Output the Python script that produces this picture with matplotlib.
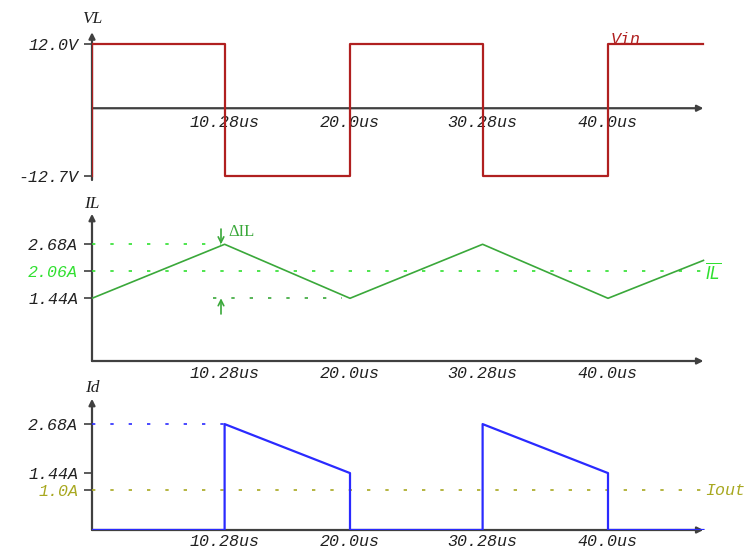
import numpy as np
import matplotlib
matplotlib.use("Agg")
import matplotlib.pyplot as plt

# data
t_ticks = [10.28, 20.0, 30.28, 40.0]
t_labels = ["10.28us", "20.0us", "30.28us", "40.0us"]
t_end = 47.4

vl_t = [0, 0, 10.28, 10.28, 20.0, 20.0, 30.28, 30.28, 40.0, 40.0, t_end]
vl_v = [-12.7, 12.0, 12.0, -12.7, -12.7, 12.0, 12.0, -12.7, -12.7, 12.0, 12.0]

il_t = [0, 10.28, 20.0, 30.28, 40.0, t_end]
il_v = [1.44, 2.68, 1.44, 2.68, 1.44, 2.31]
il_avg = 2.06

id_t = [0, 10.28, 10.28, 20.0, 20.0, 30.28, 30.28, 40.0, 40.0, t_end]
id_v = [0, 0, 2.68, 1.44, 0, 0, 2.68, 1.44, 0, 0]
i_out = 1.0

W, H = 744, 550
fig = plt.figure(figsize=(W / 100, H / 100), dpi=100)

tickfont = dict(family="Liberation Mono", style="italic", size=12)
labfont = dict(family="Liberation Serif", style="italic", size=12.5)
axcol = "#404040"
red = "#b02020"
green = "#3aa83a"
lgreen = "#30e030"
blue = "#2a2aff"
olive = "#a8a820"
dots = (0, (2, 9))

X0 = 92.0        # pixel of t=0
XS = 12.9        # px per us


def px_axes(y_top, y_bot):
    x1 = X0 + t_end * XS + 4
    return fig.add_axes([X0 / W, 1 - y_bot / H, (x1 - X0) / W, (y_bot - y_top) / H])


def setup(ax, ylo, yhi, ytop, yticks, ylabels, ycolors, xaxis_y, name, name_y, lab_off):
    ax.set_xlim(0, t_end + 4 / XS)
    ax.set_ylim(ylo, yhi)
    for s in ax.spines.values():
        s.set_visible(False)
    ax.set_yticks(yticks)
    ax.set_yticklabels(ylabels, fontdict=tickfont)
    for lab, c in zip(ax.get_yticklabels(), ycolors):
        lab.set_color(c)
    ax.tick_params(axis="y", length=6, width=1.2, color=axcol, pad=4)
    ax.set_xticks([])
    # axes lines with arrows
    ax.annotate("", xy=(t_end, xaxis_y), xytext=(0, xaxis_y),
                arrowprops=dict(arrowstyle="-|>", color=axcol, lw=1.6,
                                mutation_scale=9, shrinkA=0, shrinkB=0), zorder=1)
    ax.annotate("", xy=(0, ytop), xytext=(0, ylo),
                arrowprops=dict(arrowstyle="-|>", color=axcol, lw=1.6,
                                mutation_scale=9, shrinkA=0, shrinkB=0), zorder=1)
    for t, l in zip(t_ticks, t_labels):
        ax.annotate(l, xy=(t, xaxis_y), xytext=(0, lab_off), textcoords="offset points",
                    ha="center", va="center", color="#202020", **tickfont)
    ax.text(0, name_y, name, ha="center", va="center", color="#202020", **labfont)


# panel 1 : VL
ax1 = px_axes(28.5, 180.0)
setup(ax1, -13.5, 15.0, 14.3, [12.0, -12.7], ["12.0V", "-12.7V"],
      ["#202020", "#202020"], 0, "VL", 16.8, -10)
ax1.plot(vl_t, vl_v, color=red, lw=1.6, zorder=3)
ax1.text(40.2, 13.0, "Vin", color=red, ha="left", va="center", **tickfont)

# panel 2 : IL
ax2 = px_axes(199.0, 361.0)
setup(ax2, 0, 3.72, 3.38, [2.68, 2.06, 1.44], ["2.68A", "2.06A", "1.44A"],
      ["#202020", lgreen, "#202020"], 0, "IL", 3.61, -9)
ax2.plot([0, 10.0], [2.68, 2.68], color=lgreen, lw=1.2, ls=dots)
ax2.plot([0, t_end], [il_avg, il_avg], color=lgreen, lw=1.2, ls=dots)
ax2.plot([9.4, 19.4], [1.44, 1.44], color=green, lw=1.2, ls=dots)
ax2.plot(il_t, il_v, color=green, lw=1.2, zorder=3)
ax2.annotate("", xy=(10.0, 2.68), xytext=(10.0, 3.03),
             arrowprops=dict(arrowstyle="->", color=green, lw=1.2, shrinkA=0, shrinkB=0))
ax2.annotate("", xy=(10.0, 1.44), xytext=(10.0, 1.08),
             arrowprops=dict(arrowstyle="->", color=green, lw=1.2, shrinkA=0, shrinkB=0))
ax2.text(10.6, 2.97, "ΔIL", color=green, ha="left", va="center",
         family="Liberation Serif", size=12)
ax2.text(47.5, 2.03, r"$\overline{IL}$", color=lgreen, ha="left", va="center", size=12)

# panel 3 : Id
ax3 = px_axes(390.5, 530.0)
setup(ax3, 0, 3.53, 3.32, [2.68, 1.44, 1.0], ["2.68A", "1.44A", "1.0A"],
      ["#202020", "#202020", olive], 0, "Id", 3.6, -8)
ax3.plot([0, 10.28], [2.68, 2.68], color=blue, lw=1.2, ls=dots)
ax3.plot([0, t_end], [i_out, i_out], color=olive, lw=1.2, ls=dots)
ax3.plot(id_t, id_v, color=blue, lw=1.6, zorder=3)
ax3.text(47.5, 1.0, "Iout", color=olive, ha="left", va="center", **tickfont)

for a in (ax1, ax2, ax3):
    for tx in a.texts:
        tx.set_clip_on(False)

fig.savefig("out.png", dpi=100)
